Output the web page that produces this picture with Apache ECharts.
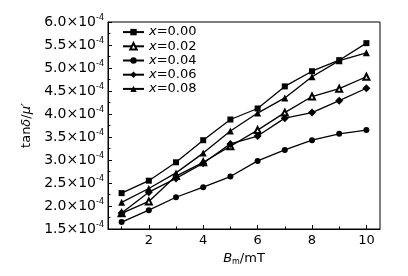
<!DOCTYPE html>
<html>
<head>
<meta charset="utf-8">
<script src="https://cdn.jsdelivr.net/npm/echarts@6/dist/echarts.min.js"></script>
<style>
  html, body { margin: 0; padding: 0; background: #fff; }
  #chart { width: 408px; height: 276px; }
</style>
</head>
<body>
<div id="chart"></div>
<script>
// Bm (mT) on the x axis
const fieldMT = [1, 2, 3, 4, 5, 6, 7, 8, 9, 10];

// tanδ/μ' values, in units of 1e-4
const x000 = [2.28, 2.55, 2.95, 3.43, 3.88, 4.12, 4.60, 4.93, 5.17, 5.54];
const x002 = [1.84, 2.10, 2.65, 2.95, 3.30, 3.65, 4.03, 4.38, 4.55, 4.81];
const x004 = [1.65, 1.91, 2.19, 2.41, 2.64, 2.98, 3.22, 3.43, 3.57, 3.65];
const x006 = [1.85, 2.30, 2.60, 2.93, 3.35, 3.52, 3.91, 4.03, 4.29, 4.56];
const x008 = [2.08, 2.38, 2.72, 3.15, 3.63, 4.02, 4.35, 4.81, 5.16, 5.33];

const seriesNames = ["0.00", "0.02", "0.04", "0.06", "0.08"];
const seriesValues = [x000, x002, x004, x006, x008];
const seriesSymbols = ["rect", "emptyTriangle", "circle", "diamond", "triangle"];
const symbolSizes = [6, 6, 6, 8, 7];

const majorTicksX = [2, 4, 6, 8, 10];
const minorTicksX = [1, 3, 5, 7, 9];

const FONT = "DejaVu Sans";

const chart = echarts.init(document.getElementById("chart"));

const series = seriesNames.map((name, i) => ({
  name: name,
  type: "line",
  data: fieldMT.map((b, j) => [b, seriesValues[i][j]]),
  symbol: seriesSymbols[i],
  symbolSize: symbolSizes[i],
  lineStyle: { color: "#000", width: 1.3 },
  itemStyle: { color: "#000", borderWidth: 1.2 },
  emphasis: { disabled: true },
}));

const option = {
  animation: false,
  textStyle: { fontFamily: FONT, color: "#000" },
  grid: {
    left: 108,
    right: 28,
    top: 22,
    bottom: 47,
    show: true,
    borderColor: "#000",
    borderWidth: 1,
  },
  legend: {
    orient: "vertical",
    left: 122,
    top: 25,
    padding: 0,
    itemGap: 0,
    itemWidth: 21,
    itemHeight: 8,
    data: seriesNames,
    formatter: (n) => "{i|x}{t|=" + n + "}",
    textStyle: {
      fontFamily: FONT,
      fontSize: 13,
      lineHeight: 14.2,
      color: "#000",
      rich: {
        i: { fontFamily: FONT, fontSize: 13, fontStyle: "italic", color: "#000" },
        t: { fontFamily: FONT, fontSize: 13, color: "#000" },
      },
    },
  },
  xAxis: [
    {
      type: "value",
      min: 0.5,
      max: 10.5,
      axisLine: { lineStyle: { color: "#000", width: 1 } },
      axisTick: {
        inside: true,
        length: 4,
        customValues: majorTicksX,
        lineStyle: { color: "#000" },
      },
      axisLabel: {
        customValues: majorTicksX,
        margin: 5,
        fontFamily: FONT,
        fontSize: 13,
        color: "#000",
      },
      splitLine: { show: false },
      name: "{i|B}{sub|m}{t|/mT}",
      nameLocation: "middle",
      nameGap: 22,
      nameTextStyle: {
        fontFamily: FONT,
        fontSize: 13,
        rich: {
          i: { fontFamily: FONT, fontSize: 13, fontStyle: "italic", color: "#000" },
          sub: { fontFamily: FONT, fontSize: 8, color: "#000", padding: [7, 0, 0, 0] },
          t: { fontFamily: FONT, fontSize: 13, color: "#000" },
        },
      },
    },
    {
      type: "value",
      min: 0.5,
      max: 10.5,
      position: "bottom",
      axisLine: { show: false },
      axisTick: {
        inside: true,
        length: 2.5,
        customValues: minorTicksX,
        lineStyle: { color: "#000" },
      },
      axisLabel: { show: false },
      splitLine: { show: false },
    },
  ],
  yAxis: {
    type: "value",
    min: 1.5,
    max: 6.0,
    interval: 0.5,
    axisLine: { show: true, lineStyle: { color: "#000", width: 1 } },
    axisTick: { inside: true, length: 4, lineStyle: { color: "#000" } },
    minorTick: { show: true, splitNumber: 2, length: 2.5, lineStyle: { color: "#000" } },
    splitLine: { show: false },
    axisLabel: {
      margin: 4,
      fontFamily: FONT,
      fontSize: 14,
      color: "#000",
      formatter: (v) => "{m|" + v.toFixed(1) + "×10}{s|-4}",
      rich: {
        m: { fontFamily: FONT, fontSize: 14, color: "#000" },
        s: { fontFamily: FONT, fontSize: 8, color: "#000", padding: [0, 0, 8, 0] },
      },
    },
    name: "{t|tan}{i|δ}{t|/}{i|μ′}",
    nameLocation: "middle",
    nameGap: 70,
    nameRotate: 90,
    nameTextStyle: {
      fontFamily: FONT,
      fontSize: 13,
      rich: {
        t: { fontFamily: FONT, fontSize: 13, color: "#000" },
        i: { fontFamily: FONT, fontSize: 13, fontStyle: "italic", color: "#000" },
      },
    },
  },
  series: series,
};

chart.setOption(option);
</script>
</body>
</html>
